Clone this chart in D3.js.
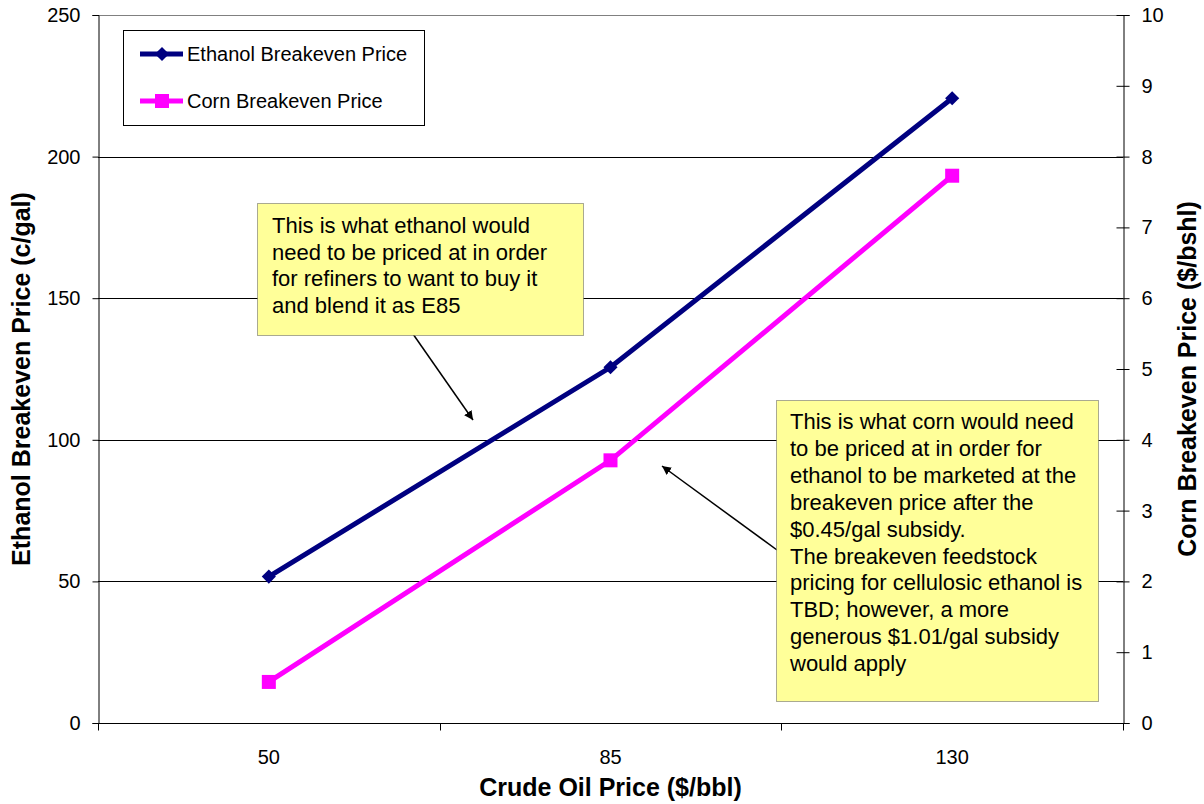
<!DOCTYPE html>
<html>
<head>
<meta charset="utf-8">
<script src="https://cdn.jsdelivr.net/npm/d3@7/dist/d3.min.js"></script>
<style>
  html, body { margin: 0; padding: 0; background: #fff; }
  svg { display: block; font-family: "Liberation Sans", Arial, sans-serif; }
</style>
</head>
<body>
<svg id="chart" width="1204" height="804"></svg>
<script>
// ---- data ----
const categories = ["50", "85", "130"];
const ethanolPrice = [51.7, 125.6, 220.6];   // c/gal (left axis)
const cornPrice = [0.58, 3.71, 7.73];        // $/bshl (right axis)
const leftTicks = [0, 50, 100, 150, 200, 250];
const rightTicks = [0, 1, 2, 3, 4, 5, 6, 7, 8, 9, 10];
const seriesNames = ["Ethanol Breakeven Price", "Corn Breakeven Price"];
const note1 = ["This is what ethanol would", "need to be priced at in order", "for refiners to want to buy it", "and blend it as E85"];
const note2 = ["This is what corn would need", "to be priced at in order for", "ethanol to be marketed at the", "breakeven price after the", "$0.45/gal subsidy.", "The breakeven feedstock", "pricing for cellulosic ethanol is", "TBD; however, a more", "generous $1.01/gal subsidy", "would apply"];

// ---- layout ----
const svg = d3.select("#chart");
const L = 98, R = 1123, T = 15, B = 723;

const x = d3.scaleBand().domain(categories).range([L, R]).padding(0);
const yL = d3.scaleLinear().domain([0, 250]).range([B, T]);
const yR = d3.scaleLinear().domain([0, 10]).range([B, T]);

// gridlines
svg.append("g").selectAll("line").data(leftTicks.filter(d => d > 0 && d < 250)).join("line")
  .attr("x1", L).attr("x2", R)
  .attr("y1", d => Math.round(yL(d)) + 0.5).attr("y2", d => Math.round(yL(d)) + 0.5)
  .attr("stroke", "#000").attr("stroke-width", 1);
// top border
svg.append("line").attr("x1", L).attr("x2", R).attr("y1", T + 0.5).attr("y2", T + 0.5)
  .attr("stroke", "#808080").attr("stroke-width", 1);

// left axis
const axL = svg.append("g").attr("transform", `translate(${L + 0.5},0)`)
  .call(d3.axisLeft(yL).tickValues(leftTicks).tickSize(6).tickPadding(12).tickFormat(d3.format("d")));
// right axis
const axR = svg.append("g").attr("transform", `translate(${R + 0.5},0)`)
  .call(d3.axisRight(yR).tickValues(rightTicks).tickSize(6).tickPadding(12).tickFormat(d3.format("d")));
axR.selectAll(".tick line").attr("x1", -7);
// bottom axis
const axB = svg.append("g").attr("transform", `translate(0,${B + 0.5})`)
  .call(d3.axisBottom(x).tickSize(0).tickPadding(26));
// category boundary ticks
const bounds = [L, ...categories.slice(1).map(c => x(c)), R];
axB.selectAll(".bt").data(bounds).join("line").attr("class", "bt")
  .attr("x1", d => Math.round(d) + 0.5).attr("x2", d => Math.round(d) + 0.5)
  .attr("y1", 0).attr("y2", 7).attr("stroke", "#000");

[axL, axR, axB].forEach(a => {
  a.selectAll(".domain").attr("stroke", "#000");
  a.selectAll(".tick line").attr("stroke", "#000");
  a.selectAll("text").attr("font-size", 20).attr("fill", "#000")
    .attr("font-family", "Liberation Sans, Arial, sans-serif");
});
axB.select(".domain").attr("d", `M${L},0H${R}`);

// axis titles
svg.append("text").attr("x", (L + R) / 2).attr("y", 796).attr("text-anchor", "middle")
  .attr("font-size", 25).attr("font-weight", "bold").text("Crude Oil Price ($/bbl)");
svg.append("text").attr("transform", `translate(30,${(T + B) / 2 + 10}) rotate(-90)`).attr("text-anchor", "middle")
  .attr("font-size", 25).attr("font-weight", "bold").text("Ethanol Breakeven Price  (c/gal)");
svg.append("text").attr("transform", `translate(1196,${(T + B) / 2 + 10}) rotate(-90)`).attr("text-anchor", "middle")
  .attr("font-size", 25).attr("font-weight", "bold").text("Corn Breakeven Price ($/bshl)");

// series
const cx = c => x(c) + x.bandwidth() / 2;
const ethPts = categories.map((c, i) => [cx(c), yL(ethanolPrice[i])]);
const cornPts = categories.map((c, i) => [cx(c), yR(cornPrice[i])]);
const line = d3.line();
svg.append("path").attr("d", line(ethPts)).attr("fill", "none").attr("stroke", "#000080").attr("stroke-width", 5);
svg.append("path").attr("d", line(cornPts)).attr("fill", "none").attr("stroke", "#FF00FF").attr("stroke-width", 5);

const diamond = d3.symbol().type(d3.symbolSquare).size(100);
svg.append("g").selectAll("path").data(ethPts).join("path")
  .attr("transform", d => `translate(${d[0]},${d[1]}) rotate(45)`)
  .attr("d", diamond()).attr("fill", "#000080");
svg.append("g").selectAll("rect").data(cornPts).join("rect")
  .attr("x", d => d[0] - 7).attr("y", d => d[1] - 7).attr("width", 14).attr("height", 14)
  .attr("fill", "#FF00FF");

// legend
const lg = svg.append("g");
lg.append("rect").attr("x", 123.5).attr("y", 30.5).attr("width", 301).attr("height", 95)
  .attr("fill", "#fff").attr("stroke", "#000").attr("stroke-width", 1);
const legY = [54, 101];
const legColors = ["#000080", "#FF00FF"];
seriesNames.forEach((name, i) => {
  lg.append("line").attr("x1", 140).attr("x2", 183).attr("y1", legY[i]).attr("y2", legY[i])
    .attr("stroke", legColors[i]).attr("stroke-width", 5);
  if (i === 0) {
    lg.append("path").attr("transform", `translate(162,${legY[i]}) rotate(45)`)
      .attr("d", diamond()).attr("fill", legColors[i]);
  } else {
    lg.append("rect").attr("x", 155).attr("y", legY[i] - 7).attr("width", 14).attr("height", 14)
      .attr("fill", legColors[i]);
  }
  lg.append("text").attr("x", 187).attr("y", legY[i] + 7).attr("font-size", 20).text(name);
});

// annotations
svg.append("defs").append("marker").attr("id", "arr").attr("viewBox", "0 0 10 10")
  .attr("refX", 10).attr("refY", 5).attr("markerWidth", 9).attr("markerHeight", 9)
  .attr("markerUnits", "userSpaceOnUse").attr("orient", "auto")
  .append("path").attr("d", "M0,0L10,5L0,10z").attr("fill", "#000");

function note(bx, by, bw, bh, lines, tx, ty0, lh) {
  const g = svg.append("g");
  g.append("rect").attr("x", bx + 0.5).attr("y", by + 0.5).attr("width", bw).attr("height", bh)
    .attr("fill", "#FFFF99").attr("stroke", "#555").attr("stroke-width", 1).attr("stroke-dasharray", "1,1");
  const t = g.append("text").attr("font-size", 22).attr("fill", "#000");
  lines.forEach((s, i) => t.append("tspan").attr("x", tx).attr("y", ty0 + i * lh).text(s));
}
svg.append("line").attr("x1", 413).attr("y1", 334).attr("x2", 473).attr("y2", 420)
  .attr("stroke", "#000").attr("stroke-width", 1.5).attr("marker-end", "url(#arr)");
svg.append("line").attr("x1", 777).attr("y1", 550).attr("x2", 662).attr("y2", 466)
  .attr("stroke", "#000").attr("stroke-width", 1.5).attr("marker-end", "url(#arr)");
note(257, 203, 326, 132, note1, 272, 233, 26.7);
note(776, 400, 322, 301, note2, 790, 429, 26.9);
</script>
</body>
</html>
